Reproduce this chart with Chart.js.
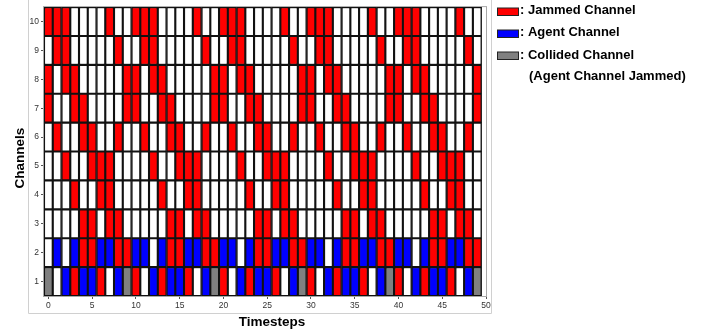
<!DOCTYPE html>
<html>
<head>
<meta charset="utf-8">
<script src="https://cdn.jsdelivr.net/npm/chart.js@4.4.0/dist/chart.umd.min.js"></script>
<style>
  html, body { margin: 0; padding: 0; background: #fff; }
  #wrap { width: 713px; height: 335px; position: relative; }
</style>
</head>
<body>
<div id="wrap"><canvas id="chart" width="713" height="335"></canvas></div>
<script>
// channel state per timestep: 0 = free, 1 = jammed, 2 = agent, 3 = collided
var ch10 = [1,1,1,0,0,0,0,1,0,0, 1,1,1,0,0,0,0,1,0,0, 1,1,1,0,0,0,0,1,0,0, 1,1,1,0,0,0,0,1,0,0, 1,1,1,0,0,0,0,1,0,0];
var ch9  = [0,1,1,0,0,0,0,0,1,0, 0,1,1,0,0,0,0,0,1,0, 0,1,1,0,0,0,0,0,1,0, 0,1,1,0,0,0,0,0,1,0, 0,1,1,0,0,0,0,0,1,0];
var ch8  = [1,0,1,1,0,0,0,0,0,1, 1,0,1,1,0,0,0,0,0,1, 1,0,1,1,0,0,0,0,0,1, 1,0,1,1,0,0,0,0,0,1, 1,0,1,1,0,0,0,0,0,1];
var ch7  = [1,0,0,1,1,0,0,0,0,1, 1,0,0,1,1,0,0,0,0,1, 1,0,0,1,1,0,0,0,0,1, 1,0,0,1,1,0,0,0,0,1, 1,0,0,1,1,0,0,0,0,1];
var ch6  = [0,1,0,0,1,1,0,0,1,0, 0,1,0,0,1,1,0,0,1,0, 0,1,0,0,1,1,0,0,1,0, 0,1,0,0,1,1,0,0,1,0, 0,1,0,0,1,1,0,0,1,0];
var ch5  = [0,0,1,0,0,1,1,1,0,0, 0,0,1,0,0,1,1,1,0,0, 0,0,1,0,0,1,1,1,0,0, 0,0,1,0,0,1,1,1,0,0, 0,0,1,0,0,1,1,1,0,0];
var ch4  = [0,0,0,1,0,0,1,1,0,0, 0,0,0,1,0,0,1,1,0,0, 0,0,0,1,0,0,1,1,0,0, 0,0,0,1,0,0,1,1,0,0, 0,0,0,1,0,0,1,1,0,0];
var ch3  = [0,0,0,0,1,1,0,1,1,0, 0,0,0,0,1,1,0,1,1,0, 0,0,0,0,1,1,0,1,1,0, 0,0,0,0,1,1,0,1,1,0, 0,0,0,0,1,1,0,1,1,0];
var ch2  = [0,2,0,2,1,1,2,2,1,1, 2,2,0,2,1,1,2,2,1,1, 2,2,0,2,1,1,2,2,1,1, 2,2,0,2,1,1,2,2,1,1, 2,2,0,2,1,1,2,2,1,1];
var ch1  = [3,0,2,1,2,2,1,0,2,3, 1,0,2,1,2,2,1,0,2,3, 1,0,2,1,2,2,1,0,2,3, 1,0,2,1,2,2,1,0,2,3, 1,0,2,1,2,2,1,0,2,3];

var channels = [ch1, ch2, ch3, ch4, ch5, ch6, ch7, ch8, ch9, ch10];
var xTicks = [0, 5, 10, 15, 20, 25, 30, 35, 40, 45, 50];
var yTicks = [1, 2, 3, 4, 5, 6, 7, 8, 9, 10];
var legendLabels = [': Jammed Channel', ': Agent Channel', ': Collided Channel', '(Agent Channel Jammed)'];

// floating bars, one per cell, channel n covers n-0.5 .. n+0.5
function cells(state) {
    var pts = [];
    channels.forEach(function(row, i) {
        row.forEach(function(s, t) {
            if (s === state) pts.push({x: t, y: [i + 0.5, i + 1.5]});
        });
    });
    return pts;
}

var boldFont = 'bold 13px "Liberation Sans", Arial, sans-serif';

var extras = {
    id: 'extras',
    beforeDatasetsDraw: function(chart) {
        var ctx = chart.ctx, a = chart.chartArea;
        ctx.save();
        // outer figure box
        ctx.strokeStyle = '#d0d0d0';
        ctx.lineWidth = 1;
        ctx.beginPath();
        ctx.moveTo(28.5, 0); ctx.lineTo(28.5, 313.5); ctx.lineTo(491.5, 313.5); ctx.lineTo(491.5, 0);
        ctx.stroke();
        // axes frame
        ctx.strokeStyle = '#a8a8a8';
        ctx.strokeRect(a.left - 0.5, a.top - 0.5, a.right - a.left + 1, a.bottom - a.top + 1);
        ctx.restore();
    },
    afterDraw: function(chart) {
        var ctx = chart.ctx;
        ctx.save();
        ctx.fillStyle = '#000';
        ctx.font = 'bold 13.5px "Liberation Sans", Arial, sans-serif';
        ctx.textAlign = 'center';
        ctx.textBaseline = 'alphabetic';
        ctx.fillText('Timesteps', 272, 325.5);
        ctx.translate(23.5, 158);
        ctx.rotate(-Math.PI / 2);
        ctx.fillText('Channels', 0, 0);
        ctx.restore();

        // legend
        ctx.save();
        ctx.font = boldFont;
        ctx.textAlign = 'left';
        ctx.textBaseline = 'alphabetic';
        var swatches = [['#ff0000', 8], ['#0000ff', 30], ['#808080', 52]];
        swatches.forEach(function(sw) {
            ctx.fillStyle = sw[0];
            ctx.fillRect(497.5, sw[1], 21, 7.5);
            ctx.strokeStyle = '#222';
            ctx.lineWidth = 1;
            ctx.strokeRect(497.5, sw[1], 21, 7.5);
        });
        ctx.fillStyle = '#000';
        ctx.fillText(legendLabels[0], 520, 13.5);
        ctx.fillText(legendLabels[1], 520, 36);
        ctx.fillText(legendLabels[2], 520, 59);
        ctx.fillText(legendLabels[3], 529, 79.5);
        ctx.restore();
    }
};

var tickFont = {family: '"Liberation Sans", Arial, sans-serif', size: 8.5};

var ctx = document.getElementById('chart').getContext('2d');
var chart = new Chart(ctx, {
    type: 'bar',
    data: {
        datasets: [
            {label: 'Free', data: cells(0), backgroundColor: '#ffffff'},
            {label: 'Jammed Channel', data: cells(1), backgroundColor: '#ff0000'},
            {label: 'Agent Channel', data: cells(2), backgroundColor: '#0000ff'},
            {label: 'Collided Channel', data: cells(3), backgroundColor: '#808080'}
        ]
    },
    options: {
        responsive: false,
        animation: false,
        devicePixelRatio: 1,
        layout: {padding: {left: 0, right: 227, top: 4, bottom: 0}},
        datasets: {
            bar: {
                grouped: false,
                barPercentage: 1,
                categoryPercentage: 1,
                borderColor: '#111',
                borderWidth: 1.4,
                borderSkipped: false
            }
        },
        plugins: {legend: {display: false}, tooltip: {enabled: false}},
        scales: {
            x: {
                type: 'linear',
                min: -0.5,
                max: 50,
                offset: false,
                afterBuildTicks: function(s) { s.ticks = xTicks.map(function(v) { return {value: v}; }); },
                afterFit: function(s) { s.height = 39; },
                grid: {offset: false, drawOnChartArea: false, tickLength: 3, color: '#555'},
                border: {display: false},
                ticks: {font: tickFont, color: '#333', padding: 2, maxRotation: 0, autoSkip: false}
            },
            y: {
                type: 'linear',
                min: 0.5,
                max: 10.5,
                afterBuildTicks: function(s) { s.ticks = yTicks.map(function(v) { return {value: v}; }); },
                afterFit: function(s) { s.width = 44; },
                grid: {drawOnChartArea: false, tickLength: 3, color: '#555'},
                border: {display: false},
                ticks: {font: tickFont, color: '#333', padding: 2, autoSkip: false}
            }
        }
    },
    plugins: [extras]
});
</script>
</body>
</html>
